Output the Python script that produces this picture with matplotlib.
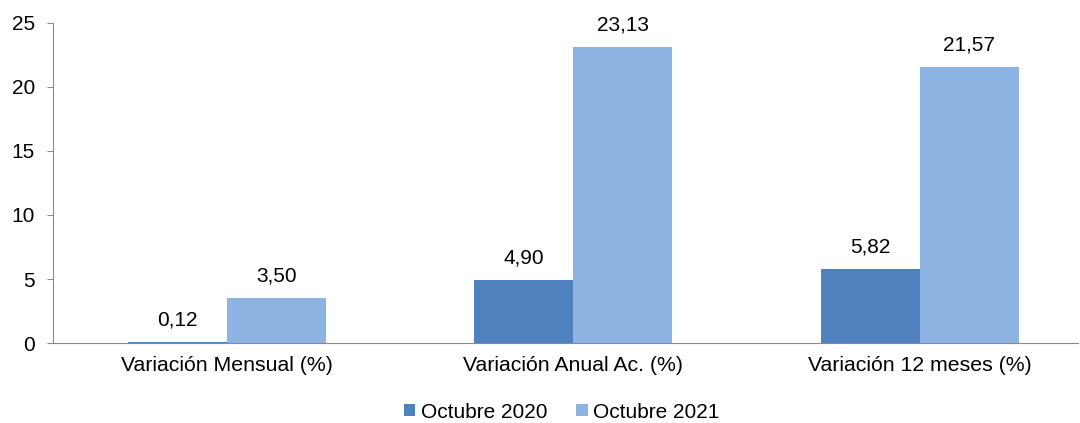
import numpy as np
import matplotlib.pyplot as plt

plt.rcParams['font.family'] = ['Liberation Sans', 'DejaVu Sans']

categorias = ['Variación Mensual (%)', 'Variación Anual Ac. (%)', 'Variación 12 meses (%)']
oct_2020 = [0.12, 4.90, 5.82]
oct_2021 = [3.50, 23.13, 21.57]
series = ['Octubre 2020', 'Octubre 2021']
colores = ['#4F81BD', '#8DB3E2']

fig = plt.figure(figsize=(10.8, 4.23), dpi=100)
ax = fig.add_axes([0.049, 0.189, 0.949, 0.757])

x = np.arange(len(categorias))
w = 0.286
b1 = ax.bar(x - w / 2, oct_2020, w, color=colores[0], label=series[0])
b2 = ax.bar(x + w / 2, oct_2021, w, color=colores[1], label=series[1])

for barras in (b1, b2):
    for b in barras:
        v = b.get_height()
        ax.annotate(f'{v:.2f}'.replace('.', ','), (b.get_x() + b.get_width() / 2, v),
                    xytext=(0, 9), textcoords='offset points',
                    ha='center', va='bottom', fontsize=15)

ax.set_xlim(-0.502, 2.456)
ax.set_ylim(0, 25)
ax.set_yticks([0, 5, 10, 15, 20, 25])
ax.set_xticks(x)
ax.set_xticklabels(categorias)
ax.tick_params(axis='y', length=4, color='#898989', labelsize=15, pad=9)
ax.tick_params(axis='x', length=0, labelsize=15.3, pad=9)
for s in ['top', 'right']:
    ax.spines[s].set_visible(False)
for s in ['left', 'bottom']:
    ax.spines[s].set_color('#898989')

fig.legend(handles=[b1, b2], loc='center', bbox_to_anchor=(0.52, 0.026), ncol=2,
           frameon=False, fontsize=15, handlelength=0.55, handleheight=0.55,
           handletextpad=0.25, columnspacing=1.4, borderpad=0)

fig.savefig('out.png', dpi=100)
